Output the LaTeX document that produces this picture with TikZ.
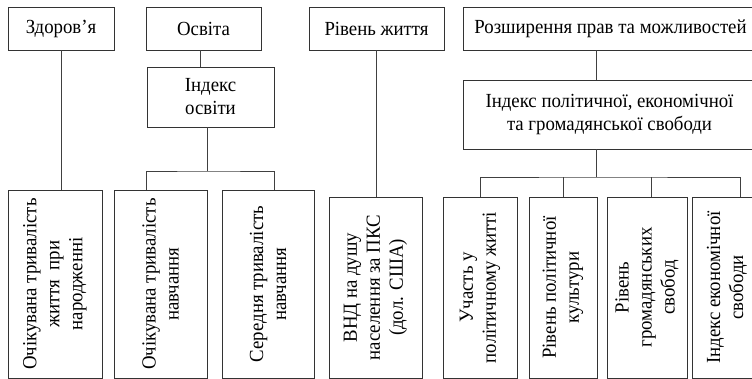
\documentclass[tikz,border=0pt]{standalone}
\usepackage{fontspec}
\setmainfont[FakeStretch=0.94]{Liberation Serif}
\begin{document}
\begin{tikzpicture}[x=1pt,y=-1pt,
  line width=0.9pt, draw=black!80,
  every node/.style={font=\fontsize{20}{23}\selectfont, inner sep=0pt, align=center},
  hbox/.style={draw, minimum height=#1},
  vbox/.style={draw, rotate=90},
  conn/.style={draw=black!75, line width=0.9pt}]
\useasboundingbox (0,0) rectangle (752,379);
\clip (0,0) rectangle (752,379);
% top row
\node[hbox=43pt, minimum width=106pt] (zd) at (61,28.5) {Здоров’я};
\node[hbox=43pt, minimum width=115pt] (osv) at (203.5,28.5) {Освіта};
\node[hbox=43pt, minimum width=135pt] (riv) at (376.5,28.5) {Рівень життя};
\node[hbox=43pt, minimum width=295pt] (roz) at (610.5,28.5) {Розширення прав та можливостей};
% middle
\node[hbox=60pt, minimum width=127pt] (idx) at (210.5,97) {Індекс\\освіти};
\node[hbox=69pt, minimum width=293pt] (ipe) at (609.5,114.5) {Індекс політичної, економічної\\та громадянської свободи};
% bottom row
\node[vbox, minimum width=188pt, minimum height=94pt] (b1) at (55,284) {Очікувана тривалість\\життя\ \ при\\народженні};
\node[vbox, minimum width=188pt, minimum height=93pt] (b2) at (160.5,284) {Очікувана тривалість\\навчання};
\node[vbox, minimum width=188pt, minimum height=92pt] (b3) at (268,284) {Середня тривалість\\навчання};
\node[vbox, minimum width=181pt, minimum height=93pt] (b4) at (375.5,287.5) {ВНД на душу\\населення за ПКС\\(дол. США)};
\node[vbox, minimum width=181pt, minimum height=74pt] (b5) at (480,287.5) {Участь у\\політичному житті};
\node[vbox, minimum width=181pt, minimum height=68pt] (b6) at (563,287.5) {Рівень політичної\\культури};
\node[vbox, minimum width=181pt, minimum height=80pt] (b7) at (647,287.5) {Рівень\\громадянських\\свобод};
\node[vbox, minimum width=181pt, minimum height=70pt] (b8) at (727,287.5) {Індекс економічної\\свободи};
% bus points
\coordinate (ebus) at (207,171);
\coordinate (pbus) at (596,177);
% connectors
\draw[conn] (zd.south) -- (zd.south |- b1.east);
\draw[conn] ([xshift=-3.5pt]osv.south) -- ([xshift=-3.5pt]osv.south |- idx.north);
\draw[conn] ([xshift=-3.5pt]idx.south) -- (ebus);
\draw[conn] ([xshift=-14.5pt]b2.east) |- (ebus) -| ([xshift=6pt]b3.east);
\draw[conn] (riv.south) -- (riv.south |- b4.east);
\draw[conn] ([xshift=-14.5pt]roz.south) -- ([xshift=-13.5pt]ipe.north);
\draw[conn] ([xshift=-13.5pt]ipe.south) -- (pbus);
\draw[conn] (b5.east) |- (pbus) -| ([xshift=13pt]b8.east);
\draw[conn] (b6.east) -- (b6.east |- pbus);
\draw[conn] ([xshift=4pt]b7.east) -- ([xshift=4pt]b7.east |- pbus);
\end{tikzpicture}
\end{document}
